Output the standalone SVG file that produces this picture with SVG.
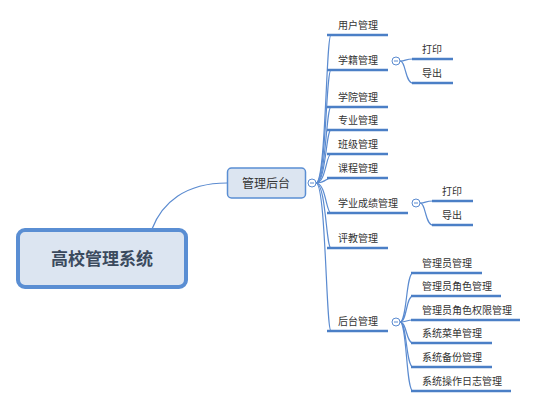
<svg xmlns="http://www.w3.org/2000/svg" width="537" height="407" viewBox="0 0 537 407">
<style>
.t{font-family:"Noto Sans CJK SC","Liberation Sans",sans-serif;font-size:10px;fill:#333}
.ul{stroke:#4b7fc6;stroke-width:2.4;fill:none}
.c{stroke:#5b8bd0;stroke-width:1.2;fill:none}
.col{fill:#fff;stroke:#5b8bd0;stroke-width:1}
.mn{stroke:#5b8bd0;stroke-width:1}
</style>
<rect width="537" height="407" fill="#fff"/>
<g id="connectors">
<path class="c" d="M152,229 C162,203 185,183 227,183"/>
<path class="c" d="M316,183 C326,183 326,35 331,35"/>
<path class="c" d="M316,183 C326,183 326,70 331,70"/>
<path class="c" d="M316,183 C326,183 326,107 331,107"/>
<path class="c" d="M316,183 C326,183 326,130 331,130"/>
<path class="c" d="M316,183 C326,183 326,154 331,154"/>
<path class="c" d="M316,183 C326,183 326,178 331,178"/>
<path class="c" d="M316,183 C326,183 326,213 331,213"/>
<path class="c" d="M316,183 C326,183 326,248 331,248"/>
<path class="c" d="M316,183 C326,183 326,331 331,331"/>
<path class="c" d="M400,61 C406,61 405,59 413,59"/>
<path class="c" d="M400,61 C406,61 405,83 413,83"/>
<path class="c" d="M420,203 C426,203 425,201 433,201"/>
<path class="c" d="M420,203 C426,203 425,225 433,225"/>
<path class="c" d="M400,322 C407,322 406,273 413,273"/>
<path class="c" d="M400,322 C407,322 406,296 413,296"/>
<path class="c" d="M400,322 C407,322 406,320 413,320"/>
<path class="c" d="M400,322 C407,322 406,343 413,343"/>
<path class="c" d="M400,322 C407,322 406,367 413,367"/>
<path class="c" d="M400,322 C407,322 406,391 413,391"/>
</g>
<g id="root">
<rect x="18" y="230" width="168" height="57" rx="7" fill="#dce5f1" stroke="#5a8ed3" stroke-width="4"/>
<text x="102" y="265" text-anchor="middle" style="font-family:'Noto Sans CJK SC','Liberation Sans',sans-serif;font-size:17px;font-weight:bold;fill:#3b4a5e">高校管理系统</text>
</g>
<g id="n-admin">
<rect x="227.5" y="168" width="78" height="30" rx="4" fill="#dce5f1" stroke="#5a8ed3" stroke-width="1.5"/>
<text x="266" y="187.5" text-anchor="middle" class="t" style="font-size:12px">管理后台</text>
<circle class="col" cx="312" cy="183" r="4"/><line class="mn" x1="310" y1="183" x2="314" y2="183"/>
</g>
<g id="n-user"><text class="t" x="338" y="29">用户管理</text><line class="ul" x1="327" y1="35" x2="388" y2="35"/></g>
<g id="n-xueji"><text class="t" x="338" y="64">学籍管理</text><line class="ul" x1="327" y1="70" x2="388" y2="70"/>
<circle class="col" cx="396" cy="61" r="4"/><line class="mn" x1="394" y1="61" x2="398" y2="61"/></g>
<g id="n-xueji-print"><text class="t" x="422" y="53">打印</text><line class="ul" x1="412" y1="59" x2="453" y2="59"/></g>
<g id="n-xueji-export"><text class="t" x="422" y="77">导出</text><line class="ul" x1="412" y1="83" x2="453" y2="83"/></g>
<g id="n-college"><text class="t" x="338" y="101">学院管理</text><line class="ul" x1="327" y1="107" x2="388" y2="107"/></g>
<g id="n-major"><text class="t" x="338" y="124">专业管理</text><line class="ul" x1="327" y1="130" x2="388" y2="130"/></g>
<g id="n-class"><text class="t" x="338" y="148">班级管理</text><line class="ul" x1="327" y1="154" x2="388" y2="154"/></g>
<g id="n-course"><text class="t" x="338" y="172">课程管理</text><line class="ul" x1="327" y1="178" x2="388" y2="178"/></g>
<g id="n-score"><text class="t" x="338" y="207">学业成绩管理</text><line class="ul" x1="327" y1="213" x2="408" y2="213"/>
<circle class="col" cx="416" cy="203" r="4"/><line class="mn" x1="414" y1="203" x2="418" y2="203"/></g>
<g id="n-score-print"><text class="t" x="442" y="195">打印</text><line class="ul" x1="432" y1="201" x2="473" y2="201"/></g>
<g id="n-score-export"><text class="t" x="442" y="219">导出</text><line class="ul" x1="432" y1="225" x2="473" y2="225"/></g>
<g id="n-eval"><text class="t" x="338" y="242">评教管理</text><line class="ul" x1="327" y1="248" x2="388" y2="248"/></g>
<g id="n-backend"><text class="t" x="338" y="325">后台管理</text><line class="ul" x1="327" y1="331" x2="388" y2="331"/>
<circle class="col" cx="396" cy="322" r="4"/><line class="mn" x1="394" y1="322" x2="398" y2="322"/></g>
<g id="n-b1"><text class="t" x="422" y="267">管理员管理</text><line class="ul" x1="411" y1="273" x2="482" y2="273"/></g>
<g id="n-b2"><text class="t" x="422" y="290">管理员角色管理</text><line class="ul" x1="411" y1="296" x2="501" y2="296"/></g>
<g id="n-b3"><text class="t" x="422" y="314">管理员角色权限管理</text><line class="ul" x1="411" y1="320" x2="520" y2="320"/></g>
<g id="n-b4"><text class="t" x="422" y="337">系统菜单管理</text><line class="ul" x1="411" y1="343" x2="492" y2="343"/></g>
<g id="n-b5"><text class="t" x="422" y="361">系统备份管理</text><line class="ul" x1="411" y1="367" x2="492" y2="367"/></g>
<g id="n-b6"><text class="t" x="422" y="385">系统操作日志管理</text><line class="ul" x1="411" y1="391" x2="511" y2="391"/></g>
</svg>
